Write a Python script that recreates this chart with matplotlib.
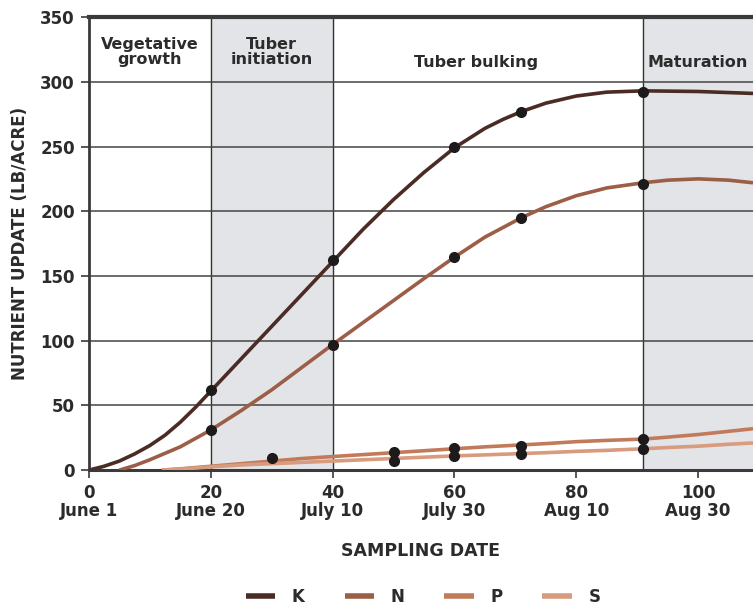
import matplotlib.pyplot as plt

FONT = ["DejaVu Sans"]
plt.rcParams["font.family"] = FONT

TEXT = "#2b2b2b"

# Days after June 1 and readings (lb/acre) along each fitted curve
k_days = [0, 2.5, 5, 7.5, 10, 12.5, 15, 17.5, 20, 25, 30, 35, 40, 45, 50, 55, 60, 65, 68, 71, 75, 80, 85, 91, 100, 109]
k_curve = [0, 3, 7, 12.5, 19, 27, 37, 48.5, 61, 86, 111, 136, 161, 186, 209, 230, 249, 264, 271, 277, 283.5, 289, 292, 293, 292.5, 291]
n_days = [5, 7.5, 10, 12.5, 15, 17.5, 20, 25, 30, 35, 40, 45, 50, 55, 60, 65, 71, 75, 80, 85, 91, 95, 100, 105, 109]
n_curve = [0, 3.5, 8, 13, 18, 24.5, 31, 46, 62, 79.5, 97, 114, 131, 148, 164.5, 180, 195, 203.5, 212, 218, 222, 224, 225, 224, 222]
ps_days = [12, 15, 20, 25, 30, 35, 40, 45, 50, 55, 60, 65, 71, 75, 80, 85, 91, 95, 100, 105, 109]
p_curve = [0, 1, 3, 5, 7, 9, 10.5, 12, 13.5, 15, 16.5, 18, 19.5, 20.5, 22, 23, 24, 25.5, 27.5, 30, 32]
s_curve = [0, 0.8, 2.5, 4, 5, 6, 7, 8, 9, 10, 11, 11.8, 12.8, 13.5, 14.5, 15.3, 16.5, 17.5, 18.5, 20, 21]

# Sampled points
k_pts_x = [20, 40, 60, 71, 91]
k_pts_y = [62, 162, 250, 277, 292]
n_pts_x = [20, 40, 60, 71, 91]
n_pts_y = [31, 97, 165, 195, 221]
p_pts_x = [30, 50, 60, 71, 91]
p_pts_y = [9, 14, 17, 19, 24]
s_pts_x = [50, 60, 71, 91]
s_pts_y = [7, 11, 12.5, 16]

xticks = [0, 20, 40, 60, 80, 100]
xlabels = ["0\nJune 1", "20\nJune 20", "40\nJuly 10", "60\nJuly 30", "80\nAug 10", "100\nAug 30"]
stage_bounds = [20, 40, 91]
stages = [("Vegetative\ngrowth", 10), ("Tuber\ninitiation", 30), ("Tuber bulking", 63.5), ("Maturation", 100)]

colors = {"K": "#4a2c24", "N": "#9c5e46", "P": "#c27b5a", "S": "#d89b7e"}

fig = plt.figure(figsize=(7.53, 6.09), dpi=100)
ax = fig.add_axes([0.118, 0.228, 0.882, 0.744])
ax.set_xlim(0, 109)
ax.set_ylim(0, 350)

# shaded stages
ax.axvspan(20, 40, color="#e3e4e7", zorder=0)
ax.axvspan(91, 109, color="#e3e4e7", zorder=0)
for b in stage_bounds:
    ax.axvline(b, color="#333333", lw=1.0, zorder=1)
for yv in range(50, 350, 50):
    ax.axhline(yv, color="#444444", lw=1.1, zorder=1)

for key, xs, ys in [("K", k_days, k_curve), ("N", n_days, n_curve),
                    ("P", ps_days, p_curve), ("S", ps_days, s_curve)]:
    ax.plot(xs, ys, color=colors[key], lw=2.6, zorder=3, label=key,
            solid_capstyle="butt", solid_joinstyle="round")

for xs, ys in [(k_pts_x, k_pts_y), (n_pts_x, n_pts_y), (p_pts_x, p_pts_y), (s_pts_x, s_pts_y)]:
    ax.plot(xs, ys, "o", color="#1c1a1a", ms=7, zorder=4)

for label, xc in stages:
    yc = 323 if "\n" in label else 315
    ax.text(xc, yc, label, ha="center", va="center", fontsize=11.5, color=TEXT,
            fontweight="bold", linespacing=1.05, zorder=5)

for side in ["left", "bottom", "top"]:
    ax.spines[side].set_color("#3a3a3a")
ax.spines["left"].set_linewidth(2.0)
ax.spines["bottom"].set_linewidth(2.2)
ax.spines["top"].set_linewidth(3.0)
ax.spines["right"].set_visible(False)

ax.set_yticks(range(0, 351, 50))
ax.set_xticks(xticks)
ax.set_xticklabels(xlabels, linespacing=1.0)
ax.tick_params(axis="both", direction="out", length=6, width=1.2, color="#3a3a3a",
               labelsize=12, labelcolor=TEXT, pad=4)
for t in ax.get_xticklabels() + ax.get_yticklabels():
    t.set_fontweight("bold")

ax.set_xlabel("SAMPLING DATE", fontsize=12.5, color=TEXT, fontweight="bold", labelpad=16)
ax.set_ylabel("NUTRIENT UPDATE (LB/ACRE)", fontsize=12, color=TEXT, fontweight="bold", labelpad=8)

leg = fig.legend(loc="center", bbox_to_anchor=(0.562, 0.02), ncol=4, frameon=False,
                 handlelength=1.75, handletextpad=1.0, columnspacing=2.4,
                 prop={"family": FONT, "weight": "bold", "size": 12})
for line in leg.get_lines():
    line.set_linewidth(4)
for t in leg.get_texts():
    t.set_color(TEXT)

fig.savefig("out.png", dpi=100)
